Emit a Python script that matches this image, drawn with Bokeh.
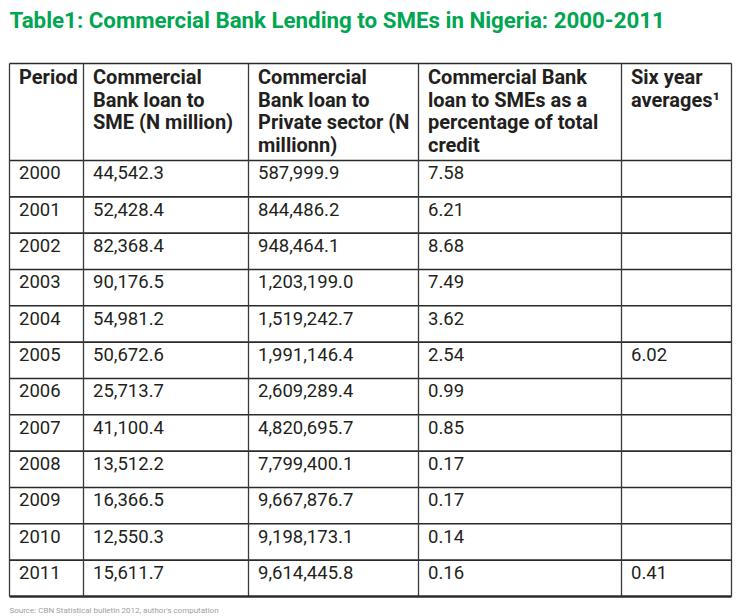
from bokeh.plotting import figure
from bokeh.models import ColumnDataSource, Range1d
from bokeh.core.properties import value
from bokeh.embed import file_html
from bokeh.resources import INLINE

title_text = "Table1: Commercial Bank Lending to SMEs in Nigeria: 2000-2011"
source_note = "Source: CBN Statistical bulletin 2012, author's computation"

header_lines = [
    ["Period"],
    ["Commercial", "Bank loan to", "SME (N million)"],
    ["Commercial", "Bank loan to", "Private sector (N", "millionn)"],
    ["Commercial Bank", "loan to SMEs as a", "percentage of total", "credit"],
    ["Six year", "averages\u00b9"],
]

periods = ["2000", "2001", "2002", "2003", "2004", "2005",
           "2006", "2007", "2008", "2009", "2010", "2011"]
sme_loans = ["44,542.3", "52,428.4", "82,368.4", "90,176.5", "54,981.2", "50,672.6",
             "25,713.7", "41,100.4", "13,512.2", "16,366.5", "12,550.3", "15,611.7"]
private_loans = ["587,999.9", "844,486.2", "948,464.1", "1,203,199.0", "1,519,242.7",
                 "1,991,146.4", "2,609,289.4", "4,820,695.7", "7,799,400.1",
                 "9,667,876.7", "9,198,173.1", "9,614,445.8"]
sme_pct = ["7.58", "6.21", "8.68", "7.49", "3.62", "2.54",
           "0.99", "0.85", "0.17", "0.17", "0.14", "0.16"]
six_year_avg = ["", "", "", "", "", "6.02", "", "", "", "", "", "0.41"]

# layout (page pixels; data coordinates equal page pixels)
W, H = 751, 616
col_edges = [9, 83, 248, 418, 621, 731]
table_top = 63
header_bottom = 160
row_h = 36.33
n_rows = len(periods)
row_edges = [header_bottom + i * row_h for i in range(n_rows + 1)]

TEXT = "#231f20"
GREEN = "#00a651"
LINE = "#2b2b2b"
FONT = "Roboto"
SHIFT = 0.42  # baseline correction, in em

p = figure(width=W, height=H, x_range=Range1d(0, W), y_range=Range1d(H, 0),
           output_backend="svg", toolbar_location=None, min_border=0,
           x_axis_type=None, y_axis_type=None)
p.grid.visible = False
p.outline_line_color = None
p.background_fill_color = "white"
p.border_fill_color = "white"

# title
ts = 22.3
p.text(x=[9], y=[28.5 - SHIFT * ts], text=[title_text], text_color=GREEN,
       text_font=value(FONT), text_font_style="bold", text_font_size=f"{ts}px",
       text_baseline="alphabetic", text_align="left")

# grid lines
hy = [table_top, header_bottom] + row_edges[1:-1]
p.segment(x0=[col_edges[0]] * len(hy), y0=hy, x1=[col_edges[-1]] * len(hy), y1=hy,
          line_color=LINE, line_width=1.6)
p.segment(x0=col_edges, y0=[table_top] * len(col_edges), x1=col_edges,
          y1=[row_edges[-1]] * len(col_edges), line_color="#3a3a3a", line_width=1.3)
p.segment(x0=[col_edges[0]], y0=[row_edges[-1]], x1=[col_edges[-1]], y1=[row_edges[-1]],
          line_color=LINE, line_width=2.4)

# header text
hs = 20
hx, hyl, ht = [], [], []
for c, lines in enumerate(header_lines):
    for k, t in enumerate(lines):
        hx.append(col_edges[c] + 9.5)
        hyl.append(85 + k * 22.5 - SHIFT * hs)
        ht.append(t)
p.text(x="x", y="y", text="t", source=ColumnDataSource(dict(x=hx, y=hyl, t=ht)),
       text_color=TEXT, text_font=value(FONT), text_font_style="bold",
       text_font_size=f"{hs}px", text_baseline="alphabetic", text_align="left")

# body text
bs = 18.5
columns = [periods, sme_loans, private_loans, sme_pct, six_year_avg]
bx, by, bt = [], [], []
for c, col in enumerate(columns):
    for r, t in enumerate(col):
        if t:
            bx.append(col_edges[c] + 9.5)
            by.append(row_edges[r] + 20 - SHIFT * bs)
            bt.append(t)
p.text(x="x", y="y", text="t", source=ColumnDataSource(dict(x=bx, y=by, t=bt)),
       text_color=TEXT, text_font=value(FONT), text_font_size=f"{bs}px",
       text_baseline="alphabetic", text_align="left")

# source note at the bottom edge
ns = 8
p.text(x=[9], y=[613 - SHIFT * ns], text=[source_note], text_color="#a0a0a0",
       text_font=value(FONT), text_font_size=f"{ns}px", text_baseline="alphabetic",
       text_align="left")

open("out.html", "w").write(file_html(p, INLINE))
